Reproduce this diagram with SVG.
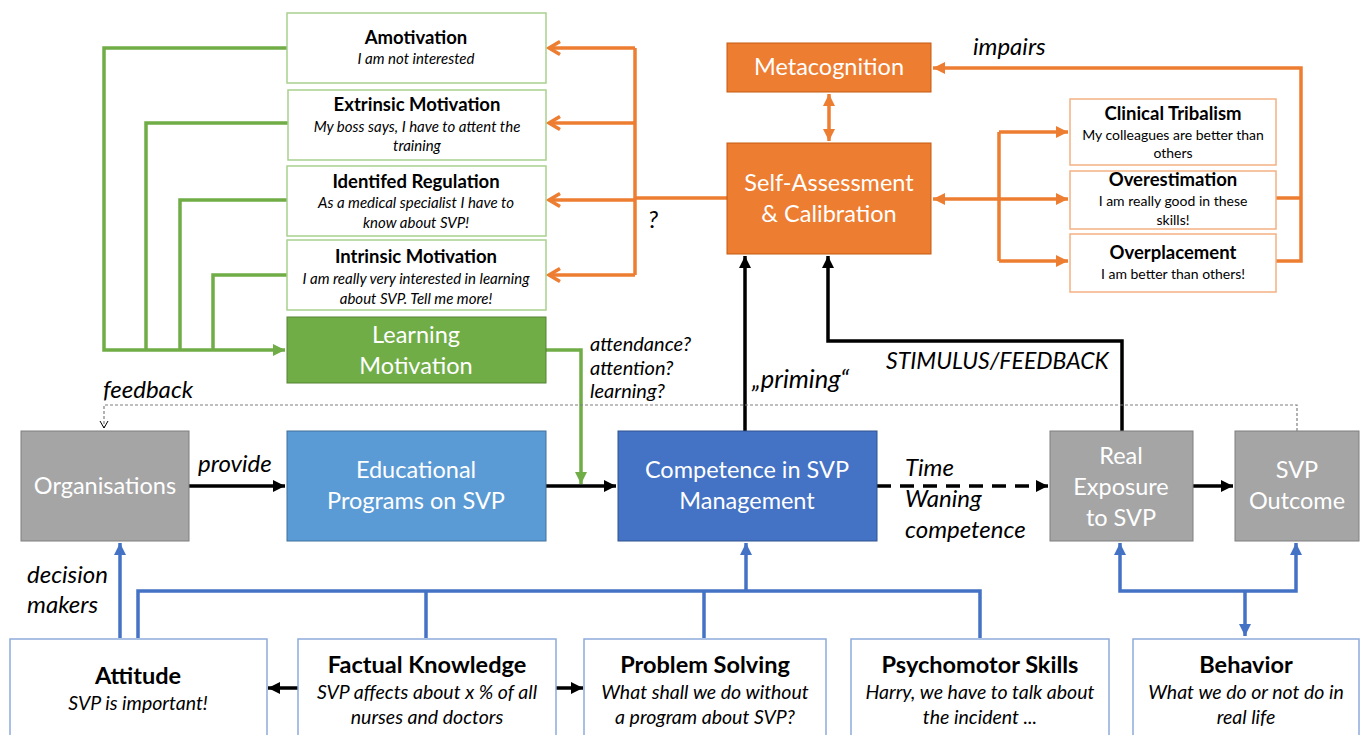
<svg xmlns="http://www.w3.org/2000/svg" width="1363" height="735" viewBox="0 0 1363 735">
<style>
text{font-family:Lato,"Noto Sans","Liberation Sans",sans-serif;text-anchor:middle;}
.t{font-weight:bold;font-size:18.5px;fill:#000;}
.s{font-style:italic;font-size:15px;fill:#000;}
.b{font-size:14px;fill:#000;}
.w{font-size:23.5px;fill:#fff;}
.bt{font-weight:bold;font-size:23.5px;fill:#000;}
.bs{font-style:italic;font-size:19.5px;fill:#000;}
.lab{font-style:italic;font-size:24px;fill:#000;text-anchor:start;}
.lab2{font-style:italic;font-size:20px;fill:#000;text-anchor:start;}
.gbox{fill:#fff;stroke:#A9D18E;stroke-width:1.5;}
.obox{fill:#fff;stroke:#F4B183;stroke-width:1.5;}
.ubox{fill:#fff;stroke:#8FAADC;stroke-width:1.5;}
.g{fill:none;stroke:#70AD47;stroke-width:3.5;}
.o{fill:none;stroke:#ED7D31;stroke-width:3.5;}
.k{fill:none;stroke:#000;stroke-width:3.5;}
.u{fill:none;stroke:#4472C4;stroke-width:3.5;}
</style>
<defs>
<marker id="ak" markerUnits="userSpaceOnUse" markerWidth="14" markerHeight="14" refX="12" refY="7" orient="auto-start-reverse"><path d="M0,1 L12,7 L0,13 z" fill="#000"/></marker>
<marker id="ao" markerUnits="userSpaceOnUse" markerWidth="14" markerHeight="14" refX="12" refY="7" orient="auto-start-reverse"><path d="M0,1 L12,7 L0,13 z" fill="#ED7D31"/></marker>
<marker id="aoo" markerUnits="userSpaceOnUse" markerWidth="16" markerHeight="16" refX="13" refY="8" orient="auto-start-reverse"><path d="M2,1.5 L13,8 L2,14.5" fill="none" stroke="#ED7D31" stroke-width="3.5"/></marker>
<marker id="ag" markerUnits="userSpaceOnUse" markerWidth="14" markerHeight="14" refX="12" refY="7" orient="auto-start-reverse"><path d="M0,1 L12,7 L0,13 z" fill="#70AD47"/></marker>
<marker id="au" markerUnits="userSpaceOnUse" markerWidth="14" markerHeight="14" refX="12" refY="7" orient="auto-start-reverse"><path d="M0,1 L12,7 L0,13 z" fill="#4472C4"/></marker>
<marker id="ad" markerUnits="userSpaceOnUse" markerWidth="10" markerHeight="10" refX="8" refY="5" orient="auto"><path d="M1,1 L8,5 L1,9" fill="none" stroke="#000" stroke-width="1"/></marker>
</defs>

<g id="connectors">
<path class="g" d="M287,48 H104 V350 H285" marker-end="url(#ag)"/>
<path class="g" d="M288,123 H146 V350"/>
<path class="g" d="M287,200 H180 V350"/>
<path class="g" d="M287,275 H213 V350"/>
<path class="g" d="M546,350 H581 V484" marker-end="url(#ag)"/>
<path class="o" d="M727,198 H635"/>
<path class="o" d="M635,48 V275"/>
<path class="o" d="M635,48 H549" marker-end="url(#aoo)"/>
<path class="o" d="M635,123 H549" marker-end="url(#aoo)"/>
<path class="o" d="M635,200 H549" marker-end="url(#aoo)"/>
<path class="o" d="M635,275 H549" marker-end="url(#aoo)"/>
<path class="o" d="M829,94 V141" marker-start="url(#ao)" marker-end="url(#ao)"/>
<path class="o" d="M999,199 H933" marker-end="url(#ao)"/>
<path class="o" d="M999,132 V261"/>
<path class="o" d="M999,132 H1068" marker-end="url(#ao)"/>
<path class="o" d="M999,199 H1068" marker-end="url(#ao)"/>
<path class="o" d="M999,261 H1068" marker-end="url(#ao)"/>
<path class="o" d="M1276,198 H1301"/>
<path class="o" d="M1276,261 H1301 V68 H933" marker-end="url(#ao)"/>
<path class="k" d="M745,431 V256" marker-end="url(#ak)"/>
<path class="k" d="M1122,431 V341 H828 V256" marker-end="url(#ak)"/>
<path class="k" d="M189,486 H285" marker-end="url(#ak)"/>
<path class="k" d="M546,486 H616" marker-end="url(#ak)"/>
<path class="k" d="M877,486 H1048" stroke-dasharray="14,9" marker-end="url(#ak)"/>
<path class="k" d="M1193,486 H1233" marker-end="url(#ak)"/>
<path class="k" d="M298,688 H268" marker-end="url(#ak)"/>
<path class="k" d="M556,688 H583" marker-end="url(#ak)"/>
<path d="M1297,431 V405 H104 V428" fill="none" stroke="#7F7F7F" stroke-width="1.2" stroke-dasharray="3,2" marker-end="url(#ad)"/>
<path class="u" d="M120,638 V543" marker-end="url(#au)"/>
<path class="u" d="M138,638 V591 H980 V638"/>
<path class="u" d="M426,591 V638"/>
<path class="u" d="M704,591 V638"/>
<path class="u" d="M746,591 V543" marker-end="url(#au)"/>
<path class="u" d="M1120,543 V591 H1296 V543" marker-start="url(#au)" marker-end="url(#au)"/>
<path class="u" d="M1245,591 V636" marker-end="url(#au)"/>
</g>

<g id="labels">
<text class="lab" x="973" y="55">impairs</text>
<text class="lab" x="648" y="228">?</text>
<text class="lab2" x="590" y="351">attendance?</text>
<text class="lab2" x="590" y="375">attention?</text>
<text class="lab2" x="590" y="398">learning?</text>
<text class="lab" x="752" y="388" style="font-size:25.5px">„priming“</text>
<text class="lab" x="886" y="369" style="font-size:23px">STIMULUS/FEEDBACK</text>
<text class="lab" x="103" y="398">feedback</text>
<text class="lab" x="198" y="472">provide</text>
<text class="lab" x="905" y="476">Time</text>
<text class="lab" x="905" y="507">Waning</text>
<text class="lab" x="905" y="538">competence</text>
<text class="lab" x="27" y="583">decision</text>
<text class="lab" x="27" y="613">makers</text>
</g>

<g id="amotivation"><rect class="gbox" x="287" y="13" width="259" height="70"/><text class="t" x="416" y="44">Amotivation</text><text class="s" x="416" y="64">I am not interested</text></g>
<g id="extrinsic"><rect class="gbox" x="288" y="90" width="258" height="70"/><text class="t" x="417" y="111">Extrinsic Motivation</text><text class="s" x="417" y="132">My boss says, I have to attent the</text><text class="s" x="417" y="151">training</text></g>
<g id="identified"><rect class="gbox" x="287" y="166" width="259" height="70"/><text class="t" x="416" y="188">Identifed Regulation</text><text class="s" x="416" y="208">As a medical specialist I have to</text><text class="s" x="416" y="228">know about SVP!</text></g>
<g id="intrinsic"><rect class="gbox" x="287" y="240" width="259" height="70"/><text class="t" x="416" y="263">Intrinsic Motivation</text><text class="s" x="416" y="284">I am really very interested in learning</text><text class="s" x="416" y="304">about SVP. Tell me more!</text></g>
<g id="learning"><rect x="287" y="317" width="259" height="66" fill="#70AD47" stroke="#548235" stroke-width="1"/><text class="w" x="416" y="343">Learning</text><text class="w" x="416" y="374">Motivation</text></g>

<g id="metacognition"><rect x="727" y="43" width="204" height="49" fill="#ED7D31" stroke="#C55A11" stroke-width="1"/><text class="w" x="829" y="75">Metacognition</text></g>
<g id="selfassessment"><rect x="727" y="143" width="204" height="111" fill="#ED7D31" stroke="#C55A11" stroke-width="1"/><text class="w" x="829" y="191">Self-Assessment</text><text class="w" x="829" y="222">&amp; Calibration</text></g>

<g id="tribalism"><rect class="obox" x="1070" y="99" width="206" height="66"/><text class="t" x="1173" y="120">Clinical Tribalism</text><text class="b" x="1173" y="140">My colleagues are better than</text><text class="b" x="1173" y="158">others</text></g>
<g id="overestimation"><rect class="obox" x="1070" y="171" width="206" height="58"/><text class="t" x="1173" y="186">Overestimation</text><text class="b" x="1173" y="206">I am really good in these</text><text class="b" x="1173" y="225">skills!</text></g>
<g id="overplacement"><rect class="obox" x="1070" y="234" width="206" height="58"/><text class="t" x="1173" y="259">Overplacement</text><text class="b" x="1173" y="279">I am better than others!</text></g>

<g id="organisations"><rect x="21" y="431" width="168" height="110" fill="#A5A5A5" stroke="#7F7F7F" stroke-width="1"/><text class="w" x="105" y="494">Organisations</text></g>
<g id="educational"><rect x="287" y="431" width="259" height="110" fill="#5B9BD5" stroke="#41719C" stroke-width="1"/><text class="w" x="416" y="478">Educational</text><text class="w" x="416" y="509">Programs on SVP</text></g>
<g id="competence"><rect x="618" y="431" width="259" height="110" fill="#4472C4" stroke="#2F528F" stroke-width="1"/><text class="w" x="747" y="478">Competence in SVP</text><text class="w" x="747" y="509">Management</text></g>
<g id="exposure"><rect x="1050" y="431" width="143" height="110" fill="#A5A5A5" stroke="#7F7F7F" stroke-width="1"/><text class="w" x="1121" y="464">Real</text><text class="w" x="1121" y="495">Exposure</text><text class="w" x="1121" y="526">to SVP</text></g>
<g id="outcome"><rect x="1235" y="431" width="124" height="110" fill="#A5A5A5" stroke="#7F7F7F" stroke-width="1"/><text class="w" x="1297" y="478">SVP</text><text class="w" x="1297" y="509">Outcome</text></g>

<g id="attitude"><rect class="ubox" x="10" y="639" width="257" height="100"/><text class="bt" x="138" y="684">Attitude</text><text class="bs" x="138" y="710">SVP is important!</text></g>
<g id="factual"><rect class="ubox" x="298" y="639" width="258" height="100"/><text class="bt" x="427" y="673">Factual Knowledge</text><text class="bs" x="427" y="699">SVP affects about x % of all</text><text class="bs" x="427" y="724">nurses and doctors</text></g>
<g id="problem"><rect class="ubox" x="584" y="639" width="242" height="100"/><text class="bt" x="705" y="673">Problem Solving</text><text class="bs" x="705" y="699">What shall we do without</text><text class="bs" x="705" y="724">a program about SVP?</text></g>
<g id="psychomotor"><rect class="ubox" x="851" y="639" width="258" height="100"/><text class="bt" x="980" y="673">Psychomotor Skills</text><text class="bs" x="980" y="699">Harry, we have to talk about</text><text class="bs" x="980" y="724">the incident ...</text></g>
<g id="behavior"><rect class="ubox" x="1133" y="639" width="226" height="100"/><text class="bt" x="1246" y="673">Behavior</text><text class="bs" x="1246" y="699">What we do or not do in</text><text class="bs" x="1246" y="724">real life</text></g>
</svg>
